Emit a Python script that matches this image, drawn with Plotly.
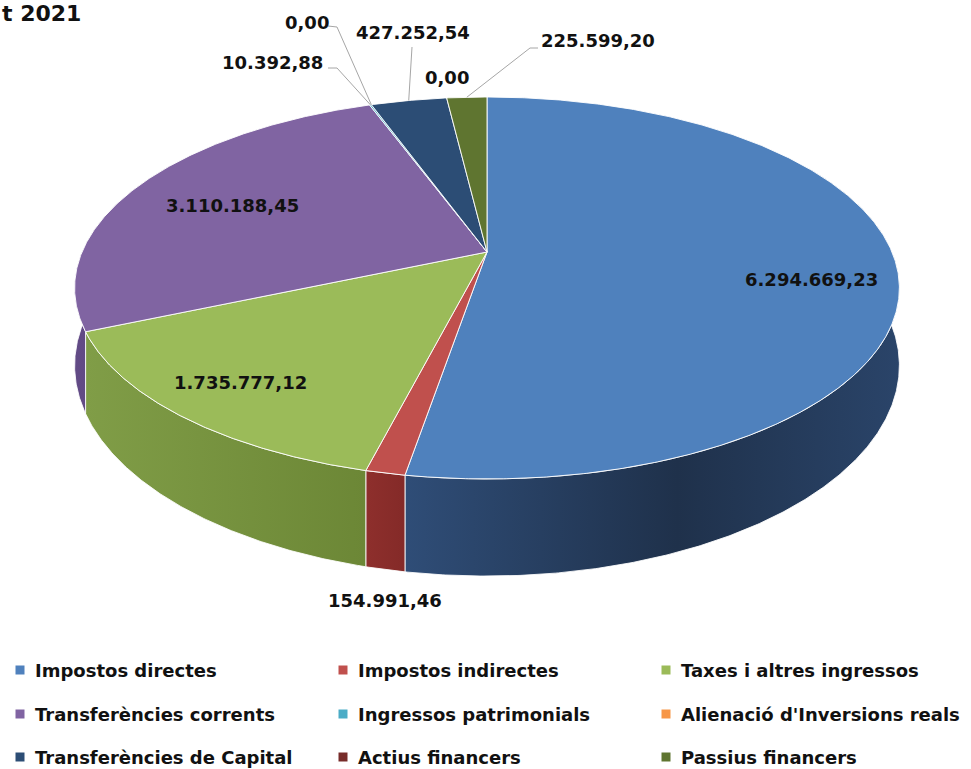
import numpy as np
import plotly.graph_objects as go

# ---------------- data ----------------
categories = [
    "Impostos directes", "Impostos indirectes", "Taxes i altres ingressos",
    "Transferències corrents", "Ingressos patrimonials", "Alienació d'Inversions reals",
    "Transferències de Capital", "Actius financers", "Passius financers",
]
values = [6294669.23, 154991.46, 1735777.12, 3110188.45, 10392.88, 0.00,
          427252.54, 0.00, 225599.20]
title_text = "t 2021"

# ---------------- style ----------------
top_colors = ["#4f81bd", "#c0504d", "#9bbb59", "#8064a2", "#4bacc6",
              "#f79646", "#2c4d75", "#772c2a", "#5f7530"]
side_scales = [
    [[0, "#2f4d77"], [0.55, "#1f314b"], [1, "#2a4469"]],
    [[0, "#8e2f2c"], [1, "#842a28"]],
    [[0, "#809d47"], [1, "#6c8736"]],
    [[0, "#624b86"], [1, "#5a4479"]],
    [[0, "#3a8aa0"], [1, "#3a8aa0"]],
    [[0, "#c4762f"], [1, "#c4762f"]],
    [[0, "#223c5c"], [1, "#223c5c"]],
    [[0, "#5e2321"], [1, "#5e2321"]],
    [[0, "#4b5d26"], [1, "#4b5d26"]],
]
FONT = "DejaVu Sans"
W, H = 971, 769

# projection of the tilted pie (pixel space)
CX, CY, RX, RY, K = 487.0, 252.0, 405.0, 184.2, 0.1885
DEPTH, DP = 74.0, 1.3

# label anchor positions (layout)
label_pos = [(811, 279), (385, 600), (240, 382), (232, 205), (272, 62),
             (307, 22), (413, 32), (447, 77), (598, 40)]
leader_elbows = {4: [(328, 68), (337, 68)], 5: [(328, 26), (337, 27)],
                 6: [(412, 47)], 8: [(538, 48), (530, 48)]}
legend_cols = [33, 356, 679]
legend_rows = [670, 714, 757]


def fmt(v):
    s = f"{v:,.2f}"
    return s.replace(",", "X").replace(".", ",").replace("X", ".")


def proj(t_deg, drop=False):
    t = np.radians(np.asarray(t_deg, dtype=float))
    u = np.sin(t)
    v = -np.cos(t)
    den = 1 - K * v
    x = CX + RX * u / den
    y = CY + RY * v / den
    if drop:
        y = y + DEPTH / den ** DP
    return x, y


total = float(np.sum(values))
cum = np.concatenate([[0], np.cumsum(values)]) / total * 360.0
starts, ends = cum[:-1], cum[1:]

fig = go.Figure()

# ---- side walls ----
for i in range(len(values)):
    s0, s1 = max(starts[i], 60.0), min(ends[i], 300.0)
    if s1 - s0 <= 0:
        continue
    ts = np.linspace(s0, s1, max(3, int((s1 - s0) * 3)))
    xt, yt = proj(ts)
    xb, yb = proj(ts[::-1], drop=True)
    xs = np.concatenate([xt, xb, xt[:1]])
    ys = np.concatenate([yt, yb, yt[:1]])
    fig.add_trace(go.Scatter(
        x=xs, y=ys, mode="lines", fill="toself",
        fillcolor=side_scales[i][0][1],
        fillgradient=dict(type="horizontal", colorscale=side_scales[i]),
        line=dict(color="rgba(255,255,255,0.85)", width=1),
        hoverinfo="skip", showlegend=False))

# ---- top faces ----
for i in range(len(values)):
    a0, a1 = starts[i], ends[i]
    if a1 - a0 <= 0:
        continue
    ts = np.linspace(a0, a1, max(3, int((a1 - a0) * 3)))
    xa, ya = proj(ts)
    xs = np.concatenate([[CX], xa, [CX]])
    ys = np.concatenate([[CY], ya, [CY]])
    fig.add_trace(go.Scatter(
        x=xs, y=ys, mode="lines", fill="toself", fillcolor=top_colors[i],
        line=dict(color="rgba(255,255,255,0.9)", width=1),
        name=categories[i], hoverinfo="skip", showlegend=False))

shapes = []
annotations = []

# ---- leader lines ----
for i, pts in leader_elbows.items():
    rx, ry = proj((starts[i] + ends[i]) / 2.0)
    path_pts = list(pts) + [(float(rx), float(ry))]
    d = "M " + " L ".join(f"{px},{py}" for px, py in path_pts)
    shapes.append(dict(type="path", path=d, xref="x", yref="y",
                       line=dict(color="#a6a6a6", width=1)))

# ---- data labels ----
for i, v in enumerate(values):
    lx, ly = label_pos[i]
    annotations.append(dict(
        x=lx, y=ly, xref="x", yref="y", text=fmt(v), showarrow=False,
        xanchor="center", yanchor="middle",
        font=dict(family=FONT, size=18, color="#111111", weight="bold")))

# ---- legend (3 x 3 grid) ----
for i, name in enumerate(categories):
    r, c = divmod(i, 3)
    tx, ty = legend_cols[c], legend_rows[r]
    shapes.append(dict(type="rect", xref="x", yref="y",
                       x0=tx - 17.5, x1=tx - 8.5, y0=ty - 4.5, y1=ty + 4.5,
                       fillcolor=top_colors[i], line=dict(width=0)))
    annotations.append(dict(
        x=tx, y=ty, xref="x", yref="y", text=name, showarrow=False,
        xanchor="left", yanchor="middle",
        font=dict(family=FONT, size=18, color="#111111", weight="bold")))

# ---- title (top-left corner) ----
annotations.append(dict(
    x=0, y=1, xref="paper", yref="paper", text=title_text, showarrow=False,
    xanchor="left", yanchor="top", xshift=0, yshift=1,
    font=dict(family=FONT, size=22, color="#111111", weight="bold")))

fig.update_layout(
    width=W, height=H, autosize=False,
    margin=dict(l=0, r=0, t=0, b=0),
    paper_bgcolor="white", plot_bgcolor="white",
    xaxis=dict(range=[0, W], visible=False, fixedrange=True),
    yaxis=dict(range=[H, 0], visible=False, fixedrange=True),
    shapes=shapes, annotations=annotations, showlegend=False,
)

fig.write_html("out.html", config={"displayModeBar": False},
               post_script="document.body.style.margin='0';")
